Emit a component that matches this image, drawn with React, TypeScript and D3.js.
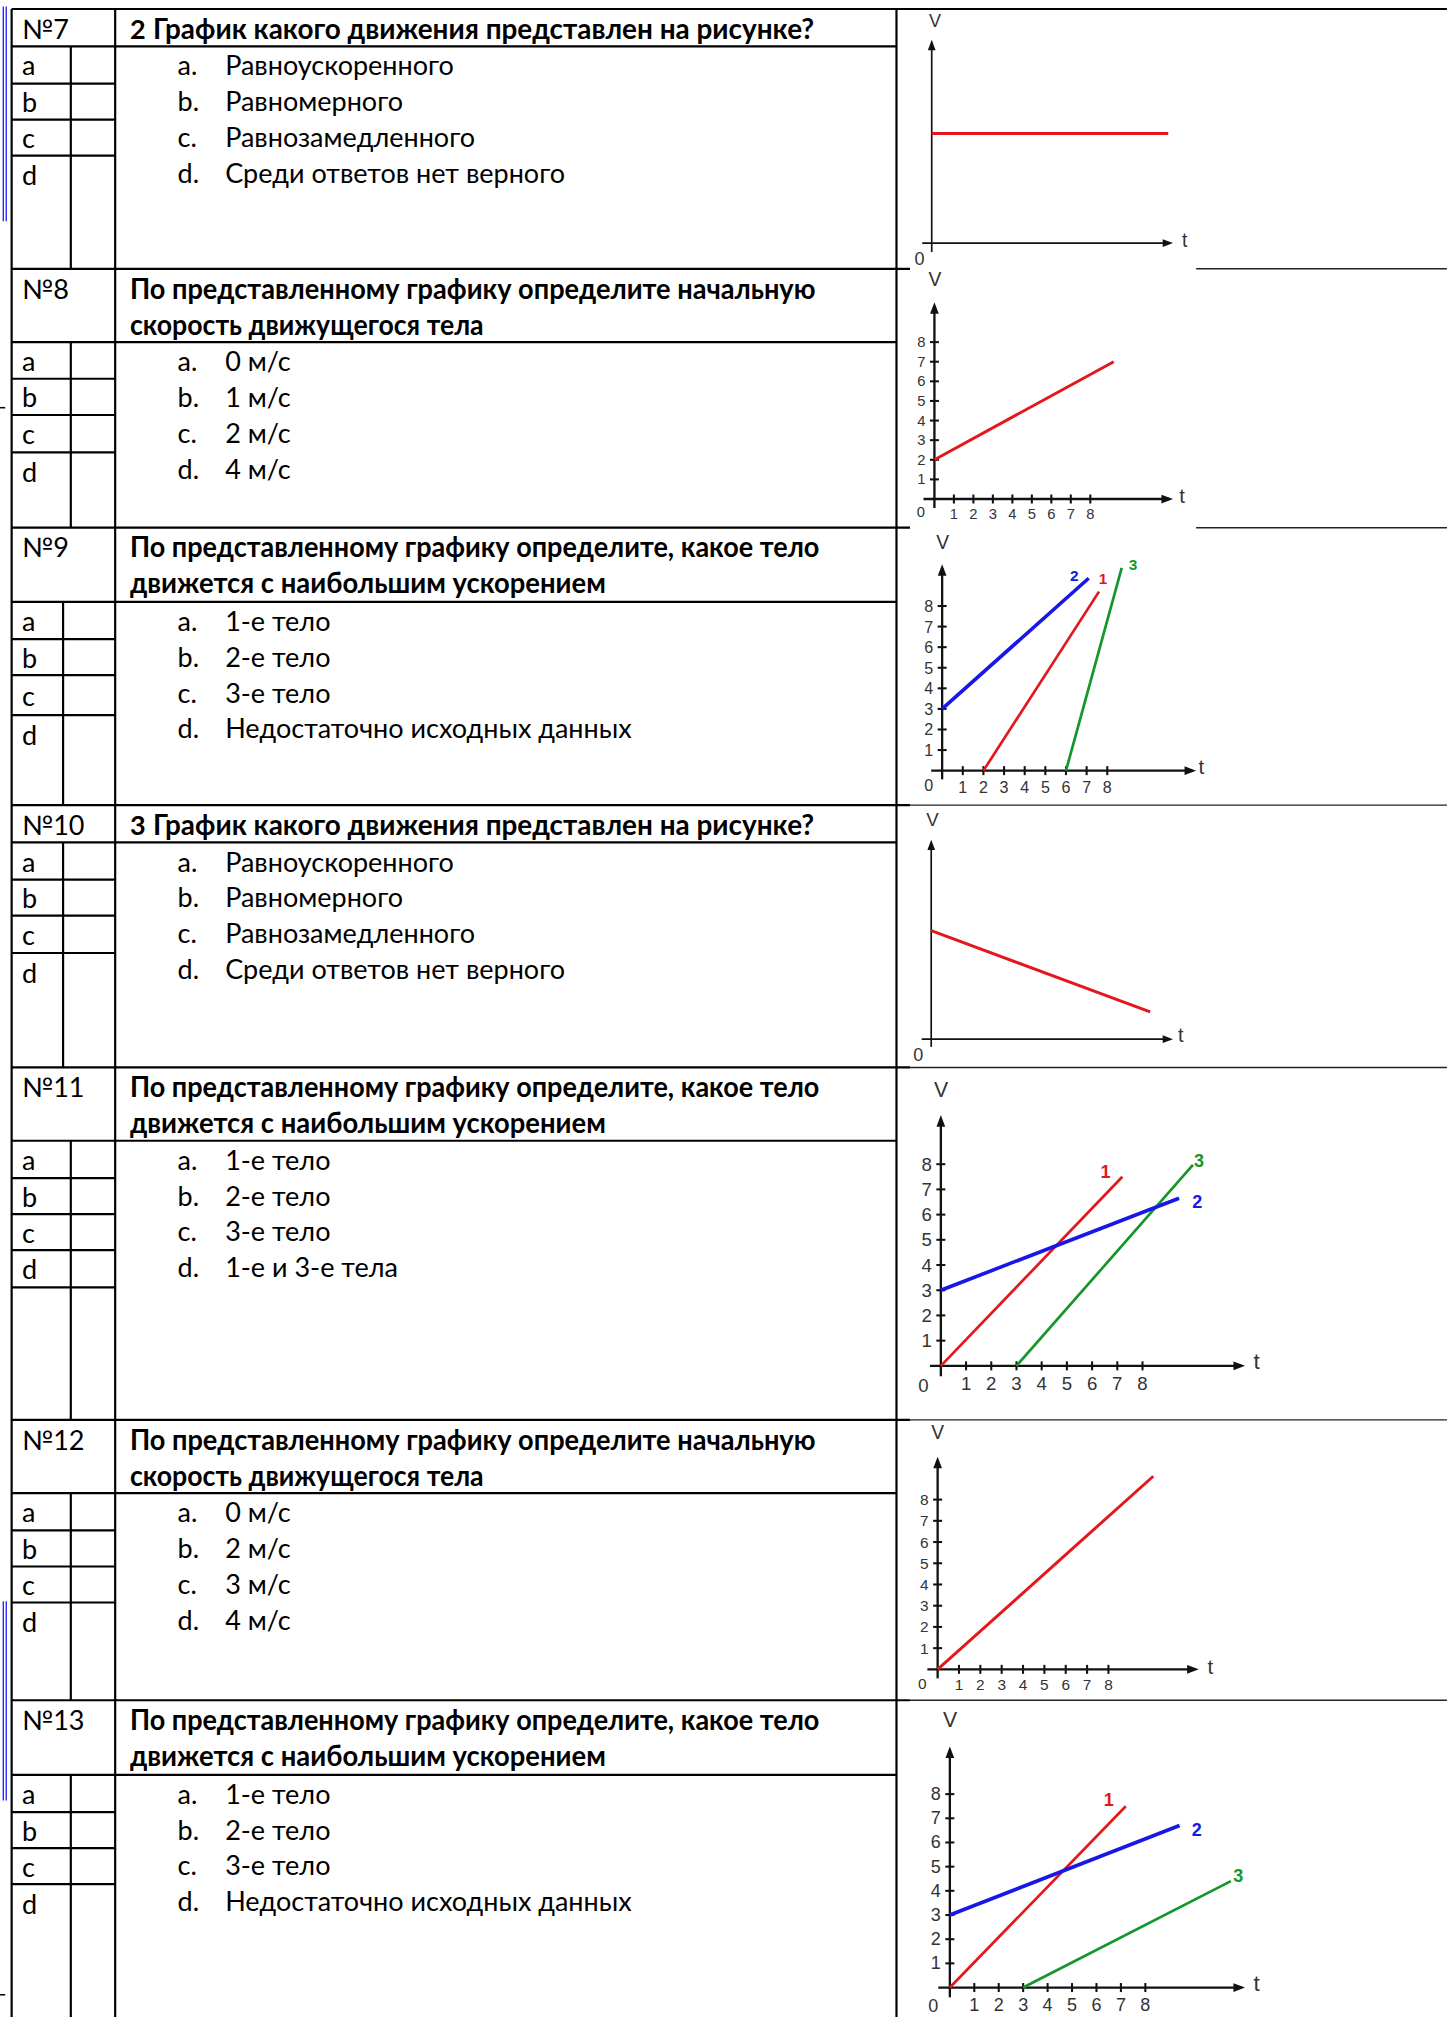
import React from "react";
import * as d3 from "d3";

// ---------------- DATA ----------------
const QUESTION_NUMBERS = ["№7", "№8", "№9", "№10", "№11", "№12", "№13"];
const QUESTION_PREFIX = ["2", "", "", "3", "", "", ""];
const Q_INITIAL = ["По представленному графику определите начальную", "скорость движущегося тела"];
const Q_ACCEL = ["По представленному графику определите, какое тело", "движется с наибольшим ускорением"];
const Q_TYPE = ["График какого движения представлен на рисунке?"];
const QUESTION_LINES = [Q_TYPE, Q_INITIAL, Q_ACCEL, Q_TYPE, Q_ACCEL, Q_INITIAL, Q_ACCEL];

const OPTION_LETTERS = ["a", "b", "c", "d"];
const OPTIONS_TYPE = ["Равноускоренного", "Равномерного", "Равнозамедленного", "Среди ответов нет верного"];
const OPTIONS = [
  OPTIONS_TYPE,
  ["0 м/с", "1 м/с", "2 м/с", "4 м/с"],
  ["1-е тело", "2-е тело", "3-е тело", "Недостаточно исходных данных"],
  OPTIONS_TYPE,
  ["1-е тело", "2-е тело", "3-е тело", "1-е и 3-е тела"],
  ["0 м/с", "2 м/с", "3 м/с", "4 м/с"],
  ["1-е тело", "2-е тело", "3-е тело", "Недостаточно исходных данных"],
];

const AXIS_TICKS = [1, 2, 3, 4, 5, 6, 7, 8];

type Pt = [number, number];
// series: [label, points (t, v), label position (t, v)]
const SERIES_Q7: [string, Pt[], Pt | null][] = [["", [[0, 5.6], [12.1, 5.6]], null]];
const SERIES_Q8: [string, Pt[], Pt | null][] = [["", [[0, 2], [9.2, 7]], null]];
const SERIES_Q9: [string, Pt[], Pt | null][] = [
  ["2", [[0, 3], [7.1, 9.35]], [6.4, 9.5]],
  ["1", [[2, 0], [7.6, 8.7]], [7.8, 9.35]],
  ["3", [[6, 0], [8.7, 9.85]], [9.25, 10.0]],
];
const SERIES_Q10: [string, Pt[], Pt | null][] = [["", [[0, 5.55], [11.2, 1.4]], null]];
const SERIES_Q11: [string, Pt[], Pt | null][] = [
  ["1", [[0, 0], [7.2, 7.5]], [6.53, 7.7]],
  ["3", [[3, 0], [10.0, 7.97]], [10.24, 8.14]],
  ["2", [[0, 3], [9.45, 6.65]], [10.17, 6.48]],
];
const SERIES_Q12: [string, Pt[], Pt | null][] = [["", [[0, 0], [10.1, 9.1]], null]];
const SERIES_Q13: [string, Pt[], Pt | null][] = [
  ["1", [[0, 0], [7.2, 7.5]], [6.5, 7.76]],
  ["2", [[0, 3], [9.4, 6.7]], [10.1, 6.52]],
  ["3", [[3, 0], [11.5, 4.4]], [11.8, 4.62]],
];
const CHART_SERIES = [SERIES_Q7, SERIES_Q8, SERIES_Q9, SERIES_Q10, SERIES_Q11, SERIES_Q12, SERIES_Q13];

// ---------------- LAYOUT ----------------
const W = 1125;
const H = 1568.3;
const X_LEFT = 9;
const X_Q = 89.5;
const X_C = 697;

const ROW_LAYOUT = [
  { top: 7, header: 36, cellLines: [65, 93, 121], bottom: 209, inner: 55, lineFrom: 930 },
  { top: 209, header: 266, cellLines: [294.5, 322.7, 351.7], bottom: 410.3, inner: 55, lineFrom: 930 },
  { top: 410.3, header: 468, cellLines: [497, 525, 556], bottom: 626, inner: 49, lineFrom: 707 },
  { top: 626, header: 655, cellLines: [684, 712, 741], bottom: 830, inner: 49, lineFrom: 707 },
  { top: 830, header: 887, cellLines: [916, 944, 972, 1001], bottom: 1104, inner: 55, lineFrom: 707 },
  { top: 1104, header: 1161, cellLines: [1190, 1218, 1246], bottom: 1322, inner: 55, lineFrom: 707 },
  { top: 1322, header: 1380, cellLines: [1409, 1437, 1465], bottom: H + 5, inner: 55, lineFrom: 707 },
];

// measured widths of the bold question lines (to mimic Calibri metrics)
const Q_WIDTHS: Record<string, number> = {
  [Q_TYPE[0]]: 514,
  [Q_INITIAL[0]]: 533,
  [Q_INITIAL[1]]: 275,
  [Q_ACCEL[0]]: 536,
  [Q_ACCEL[1]]: 370,
};

const CHART_LAYOUT = [
  { x0: 724.4, y0: 189, ux: 15.2, uy: 15.2, tip: 31, right: 912, left: 717, below: 196, ticks: false, tickFont: 11, labelFont: 12, vPos: [727, 16], vFont: 14, tPos: [921, 187], zeroPos: [715, 201], thin: true },
  { x0: 726.5, y0: 388, ux: 15.15, uy: 15.25, tip: 235, right: 912, left: 718, below: 395, ticks: true, tickFont: 11.5, labelFont: 12, vPos: [727, 217], vFont: 15, tPos: [919, 385], zeroPos: [716, 398], thin: false },
  { x0: 732.5, y0: 599.2, ux: 16.05, uy: 16, tip: 438.7, right: 930, left: 724, below: 606, ticks: true, tickFont: 12.5, labelFont: 12, vPos: [733, 422], vFont: 15, tPos: [934, 596], zeroPos: [722, 610], thin: false },
  { x0: 724, y0: 808, ux: 15.2, uy: 15.2, tip: 653, right: 912, left: 716.6, below: 814, ticks: false, tickFont: 11, labelFont: 12, vPos: [725, 637.5], vFont: 14.5, tPos: [918, 805], zeroPos: [714, 820], thin: true },
  { x0: 731.5, y0: 1062, ux: 19.6, uy: 19.6, tip: 867, right: 968, left: 723, below: 1070, ticks: true, tickFont: 14.5, labelFont: 14, vPos: [731.6, 847.5], vFont: 16.5, tPos: [977, 1059], zeroPos: [718, 1077], thin: false },
  { x0: 729, y0: 1298, ux: 16.6, uy: 16.5, tip: 1132.6, right: 932, left: 721, below: 1305, ticks: true, tickFont: 12, labelFont: 12, vPos: [729, 1114], vFont: 15, tPos: [941, 1296], zeroPos: [717, 1309], thin: false },
  { x0: 738.5, y0: 1545.4, ux: 19.0, uy: 18.8, tip: 1358, right: 968, left: 729.5, below: 1553, ticks: true, tickFont: 14, labelFont: 14, vPos: [738.6, 1337.3], vFont: 16.5, tPos: [977, 1542], zeroPos: [725.6, 1559.5], thin: false },
];

const SERIES_COLORS: Record<string, string> = { "": "#e3171c", "1": "#e3171c", "2": "#1717e6", "3": "#14962a" };
const SERIES_WIDTH: Record<string, number> = { "": 2.3, "1": 2.1, "2": 2.8, "3": 2.1 };

const TABLE_FONT = "Lato, 'Open Sans', sans-serif";
const CHART_FONT = "'Liberation Sans', Arial, sans-serif";
const FS = 21;
const LINE = 1.7;

function Chart({ idx }: { idx: number }) {
  const L = CHART_LAYOUT[idx];
  const series = CHART_SERIES[idx];
  const x = d3.scaleLinear().domain([0, 8]).range([L.x0, L.x0 + 8 * L.ux]);
  const y = d3.scaleLinear().domain([0, 8]).range([L.y0, L.y0 - 8 * L.uy]);
  const line = d3
    .line<Pt>()
    .x((d) => x(d[0]))
    .y((d) => y(d[1]));
  const aw = L.thin ? 3 : 3.4;
  const al = L.thin ? 8 : 9;
  const axisW = L.thin ? 1.3 : 1.8;
  const xLabY = Math.min(L.y0 + 5.5 + L.tickFont * 0.55, H - L.tickFont * 0.55);
  return (
    <g>
      <line x1={L.x0} y1={L.below} x2={L.x0} y2={L.tip + 3} stroke="#111" strokeWidth={axisW} />
      <polygon points={`${L.x0},${L.tip} ${L.x0 - aw},${L.tip + al} ${L.x0 + aw},${L.tip + al}`} fill="#111" />
      <line x1={L.left} y1={L.y0} x2={L.right - 3} y2={L.y0} stroke="#111" strokeWidth={axisW} />
      <polygon points={`${L.right},${L.y0} ${L.right - al},${L.y0 - aw} ${L.right - al},${L.y0 + aw}`} fill="#111" />
      {L.ticks &&
        AXIS_TICKS.map((t) => (
          <g key={t}>
            <line x1={L.x0 - 3.5} x2={L.x0 + 3.5} y1={y(t)} y2={y(t)} stroke="#111" strokeWidth={1.6} />
            <text x={L.x0 - 7} y={y(t)} textAnchor="end" dominantBaseline="central" fontFamily={CHART_FONT} fontSize={L.tickFont} fill="#333">
              {t}
            </text>
            <line x1={x(t)} x2={x(t)} y1={L.y0 - 3.5} y2={L.y0 + 3.5} stroke="#111" strokeWidth={1.6} />
            <text x={x(t)} y={xLabY} textAnchor="middle" dominantBaseline="central" fontFamily={CHART_FONT} fontSize={L.tickFont} fill="#333">
              {t}
            </text>
          </g>
        ))}
      <text x={L.vPos[0]} y={L.vPos[1]} textAnchor="middle" dominantBaseline="central" fontFamily={CHART_FONT} fontSize={L.vFont} fill="#333">
        V
      </text>
      <text x={L.tPos[0]} y={L.tPos[1]} textAnchor="middle" dominantBaseline="central" fontFamily={CHART_FONT} fontSize={L.vFont + 1} fill="#333">
        t
      </text>
      <text x={L.zeroPos[0]} y={L.zeroPos[1]} textAnchor="middle" dominantBaseline="central" fontFamily={CHART_FONT} fontSize={L.thin ? 14 : L.tickFont} fill="#333">
        0
      </text>
      {series.map(([label, pts, lp], i) => (
        <g key={i}>
          <path d={line(pts) || ""} fill="none" stroke={SERIES_COLORS[label]} strokeWidth={SERIES_WIDTH[label]} />
          {lp && (
            <text x={x(lp[0])} y={y(lp[1])} textAnchor="middle" dominantBaseline="central" fontFamily={CHART_FONT} fontWeight="bold" fontSize={L.labelFont} fill={SERIES_COLORS[label]}>
              {label}
            </text>
          )}
        </g>
      ))}
    </g>
  );
}

function Row({ idx }: { idx: number }) {
  const R = ROW_LAYOUT[idx];
  const lines = QUESTION_LINES[idx];
  const prefix = QUESTION_PREFIX[idx];
  const cellBounds = [R.header, ...R.cellLines];
  return (
    <g>
      <line x1={X_LEFT} x2={idx === 0 ? W : 707.5} y1={R.top} y2={R.top} stroke="#000" strokeWidth={LINE} />
      {idx > 0 && <line x1={ROW_LAYOUT[idx - 1].lineFrom} x2={W} y1={R.top} y2={R.top} stroke="#222" strokeWidth={1.1} />}
      <line x1={X_LEFT} x2={X_C} y1={R.header} y2={R.header} stroke="#000" strokeWidth={LINE} />
      {R.cellLines.map((cy, i) => (
        <line key={i} x1={X_LEFT} x2={X_Q} y1={cy} y2={cy} stroke="#000" strokeWidth={LINE} />
      ))}
      <line x1={R.inner} x2={R.inner} y1={R.header} y2={R.bottom} stroke="#000" strokeWidth={LINE} />
      <text x={17} y={R.top + 15} dominantBaseline="central" fontFamily={TABLE_FONT} fontSize={FS} fill="#000">
        {QUESTION_NUMBERS[idx]}
      </text>
      {prefix && (
        <text x={101} y={R.top + 15} dominantBaseline="central" fontFamily={TABLE_FONT} fontWeight="bold" fontSize={FS} fill="#000">
          {prefix}
        </text>
      )}
      {lines.map((s, i) => (
        <text
          key={i}
          x={prefix ? 119 : 101}
          y={R.top + 15 + i * 28}
          dominantBaseline="central"
          fontFamily={TABLE_FONT}
          fontWeight="bold"
          fontSize={FS + 0.5}
          fill="#000"
          textLength={Q_WIDTHS[s]}
          lengthAdjust="spacingAndGlyphs"
        >
          {s}
        </text>
      ))}
      {OPTION_LETTERS.map((l, i) => {
        const top = cellBounds[i];
        const bot = cellBounds[i + 1];
        const cy = bot !== undefined ? (top + bot) / 2 : top + 15;
        return (
          <text key={l} x={17} y={cy} dominantBaseline="central" fontFamily={TABLE_FONT} fontSize={FS} fill="#000">
            {l}
          </text>
        );
      })}
      {OPTIONS[idx].map((o, i) => (
        <g key={i}>
          <text x={138} y={R.header + 14.5 + i * 27.8} dominantBaseline="central" fontFamily={TABLE_FONT} fontSize={FS} fill="#000">
            {OPTION_LETTERS[i] + "."}
          </text>
          <text x={175} y={R.header + 14.5 + i * 27.8} dominantBaseline="central" fontFamily={TABLE_FONT} fontSize={FS} fill="#000">
            {o}
          </text>
        </g>
      ))}
    </g>
  );
}

export default function App() {
  return (
    <div style={{ position: "absolute", left: 0, top: 0, width: 1447, height: 2017, background: "#fff" }}>
      <svg width={1447} height={2017} viewBox={`0 0 ${W} ${H}`} style={{ display: "block" }}>
        <rect x={0} y={0} width={W} height={H} fill="#fff" />
        {ROW_LAYOUT.map((_, i) => (
          <Row key={i} idx={i} />
        ))}
        <line x1={X_LEFT} x2={X_LEFT} y1={7} y2={H} stroke="#000" strokeWidth={LINE} />
        <line x1={X_Q} x2={X_Q} y1={7} y2={H} stroke="#000" strokeWidth={LINE} />
        <line x1={X_C} x2={X_C} y1={7} y2={H} stroke="#000" strokeWidth={LINE} />
        <line x1={2.5} x2={2.5} y1={5} y2={172} stroke="#1a1aff" strokeWidth={1} />
        <line x1={4.8} x2={4.8} y1={5} y2={172} stroke="#1a1aff" strokeWidth={1} />
        <line x1={2.5} x2={2.5} y1={1245} y2={1400} stroke="#1a1aff" strokeWidth={1} />
        <line x1={4.8} x2={4.8} y1={1245} y2={1400} stroke="#1a1aff" strokeWidth={1} />
        <line x1={0} x2={4} y1={317} y2={317} stroke="#000" strokeWidth={1.2} />
        <line x1={0} x2={4} y1={1551} y2={1551} stroke="#000" strokeWidth={1.2} />
        {CHART_LAYOUT.map((_, i) => (
          <Chart key={i} idx={i} />
        ))}
      </svg>
    </div>
  );
}
